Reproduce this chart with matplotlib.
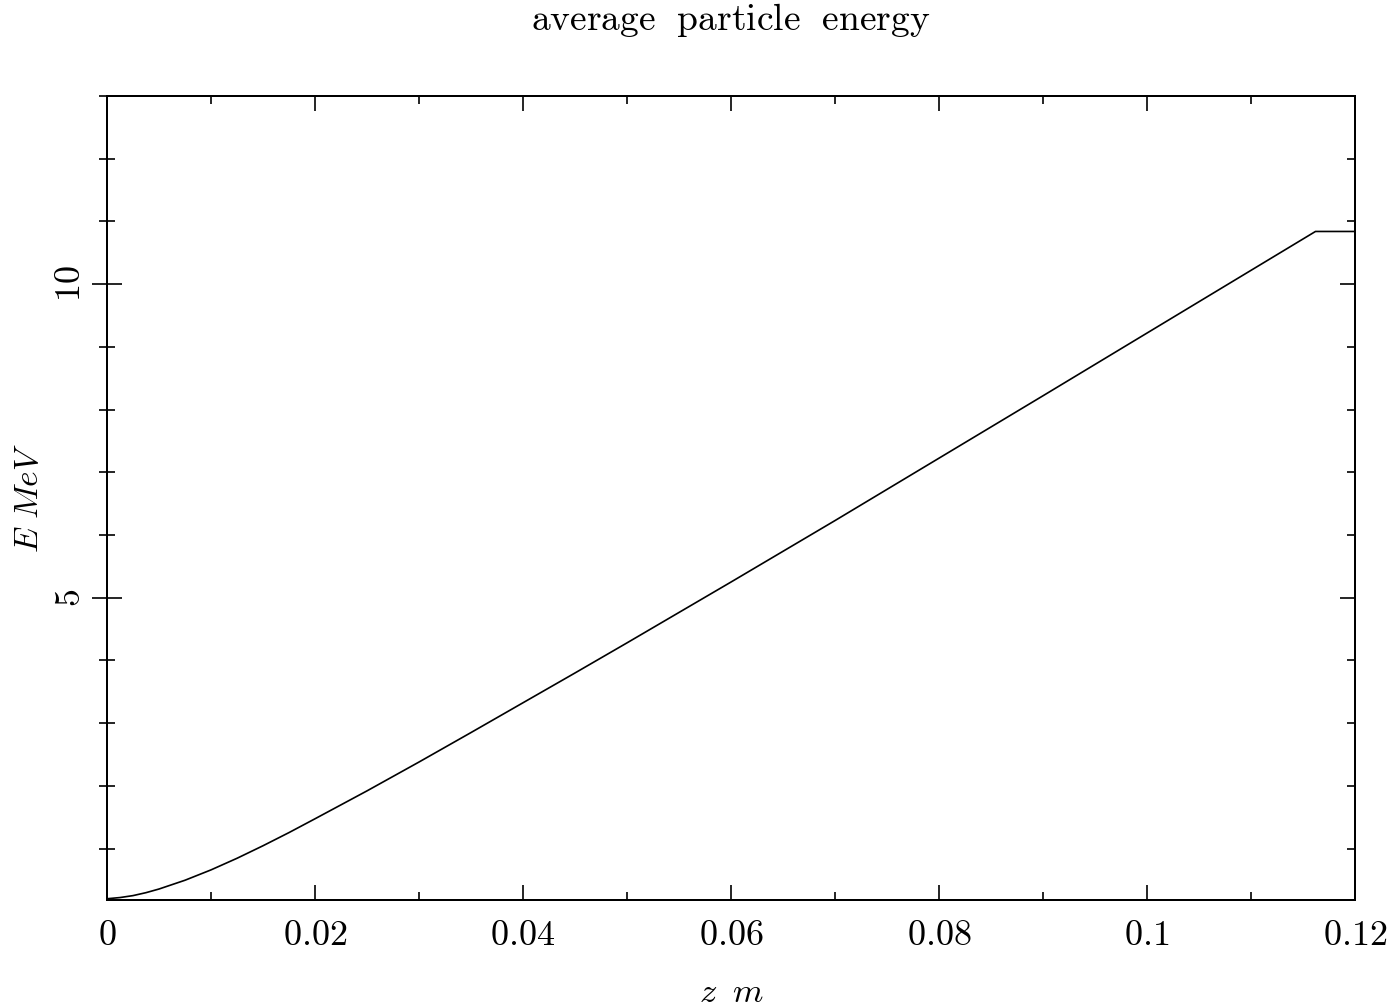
import matplotlib
matplotlib.use("Agg")
import matplotlib.pyplot as plt
from matplotlib.ticker import MultipleLocator, FixedLocator, FixedFormatter

plt.rcParams['mathtext.fontset'] = 'cm'

# data
z_m = [0.0, 0.00125, 0.0025, 0.00375, 0.005, 0.0075, 0.01, 0.0125, 0.015, 0.0175, 0.02,
       0.025, 0.03, 0.035, 0.04, 0.045, 0.05, 0.055, 0.06, 0.065, 0.07,
       0.08, 0.09, 0.10, 0.11, 0.1162, 0.12]
E_MeV = [0.20, 0.219, 0.25, 0.297, 0.355, 0.495, 0.66, 0.845, 1.045, 1.255, 1.475,
         1.92, 2.38, 2.85, 3.325, 3.80, 4.28, 4.765, 5.25, 5.74, 6.23,
         7.225, 8.22, 9.22, 10.22, 10.84, 10.84]

x_major = [0, 0.02, 0.04, 0.06, 0.08, 0.1, 0.12]
x_major_labels = ["0", "0.02", "0.04", "0.06", "0.08", "0.1", "0.12"]
y_major = [5, 10]
y_major_labels = ["5", "10"]

fig = plt.figure(figsize=(13.91, 10.08), dpi=100)
ax = fig.add_axes([107/1391, 1-900/1008, 1248/1391, 804/1008])

ax.plot(z_m, E_MeV, color='black', lw=1.2, solid_joinstyle='round')
ax.set_xlim(0, 0.12)
ax.set_ylim(0.18, 13.0)

for s in ax.spines.values():
    s.set_linewidth(1.4)

ax.xaxis.set_major_locator(FixedLocator(x_major))
ax.xaxis.set_major_formatter(FixedFormatter([r'$\mathrm{%s}$' % t for t in x_major_labels]))
ax.xaxis.set_minor_locator(MultipleLocator(0.01))
ax.yaxis.set_major_locator(FixedLocator(y_major))
ax.yaxis.set_major_formatter(FixedFormatter([r'$\mathrm{%s}$' % t for t in y_major_labels]))
ax.yaxis.set_minor_locator(MultipleLocator(1))

ax.tick_params(axis='x', which='both', direction='in', top=True, bottom=True, width=1.2)
ax.tick_params(axis='x', which='major', length=10.5, pad=13, labelsize=26)
ax.tick_params(axis='x', which='minor', length=5.5)
ax.tick_params(axis='y', which='both', direction='inout', left=True, right=False, width=1.2)
ax.tick_params(axis='y', which='major', length=21, pad=4, labelsize=26, labelrotation=90)
ax.tick_params(axis='y', which='minor', length=11)
for lab in ax.get_yticklabels():
    lab.set_va('center')

# right axis ticks pointing inward
ax2 = ax.twinx()
ax2.set_ylim(ax.get_ylim())
ax2.yaxis.set_major_locator(FixedLocator(y_major))
ax2.yaxis.set_minor_locator(MultipleLocator(1))
ax2.tick_params(axis='y', which='both', direction='in', labelright=False, width=1.2)
ax2.tick_params(axis='y', which='major', length=10.5)
ax2.tick_params(axis='y', which='minor', length=5.5)
for s in ax2.spines.values():
    s.set_linewidth(1.4)

ax.set_xlabel(r'$z\;\;m$', fontsize=25)
ax.xaxis.set_label_coords(0.5, -0.115)
ax.xaxis.label.set_va('center')
ax.set_ylabel(r'$E\ MeV$', fontsize=24)
ax.yaxis.set_label_coords(-0.0633, 0.5)
ax.yaxis.label.set_va('center')

ax.text(0.5, 1.0945, r'$\mathrm{average\ \ particle\ \ energy}$', transform=ax.transAxes,
        ha='center', va='center', fontsize=27)

fig.savefig('out.png', dpi=100)
